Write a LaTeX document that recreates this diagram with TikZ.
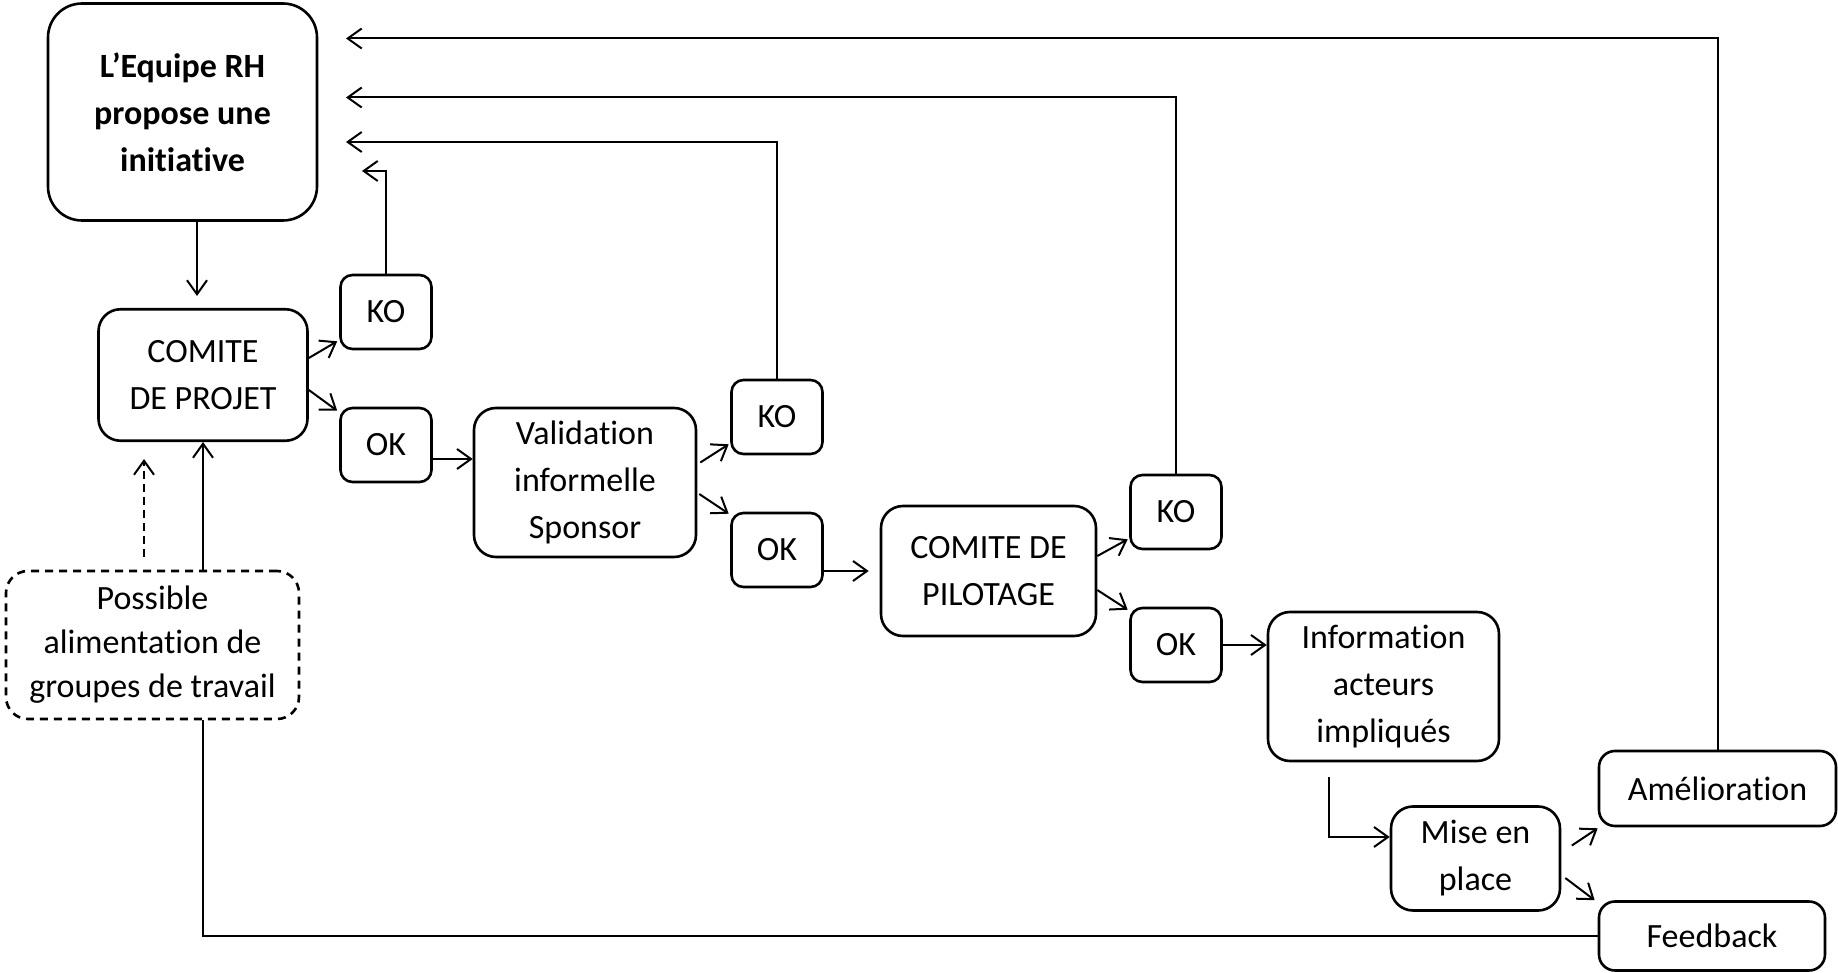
\documentclass[tikz,border=0pt]{standalone}
\usepackage{fontspec}
\setmainfont{Carlito}[Ligatures=NoCommon]
\usetikzlibrary{arrows.meta,calc}

\tikzset{
  bloc/.style={draw,line width=1.3pt,rounded corners=11pt,align=center,inner sep=0pt,
    font=\fontsize{17}{23.5}\selectfont},
  petit/.style={bloc,rounded corners=6pt,minimum width=45.5pt,minimum height=37pt},
  fleche/.style={line width=1pt,-{Straight Barb[length=7pt,width=10pt,line width=1pt]}},
  lien/.style={line width=1pt}
}

\begin{document}
\begin{tikzpicture}[x=0.5pt,y=-0.5pt]
\useasboundingbox (0,0) rectangle (1838,973);

% Blocs
\node[bloc,rounded corners=17pt,minimum width=134.5pt,minimum height=108.5pt,
  font=\bfseries\fontsize{17}{23.5}\selectfont] (rh) at (182.5,112) {L’Equipe RH\\propose une\\initiative};
\node[bloc,minimum width=104.5pt,minimum height=65.75pt] (cp) at (203,375) {COMITE\\DE PROJET};
\node[petit] (ko1) at (386,312) {KO};
\node[petit] (ok1) at (386,445) {OK};
\node[bloc,minimum width=111pt,minimum height=74.5pt] (val) at (585,482.5) {Validation\\informelle\\Sponsor};
\node[petit] (ko2) at (777,417) {KO};
\node[petit] (ok2) at (777,550) {OK};
\node[bloc,minimum width=107.5pt,minimum height=65pt] (pil) at (988.5,571) {COMITE DE\\PILOTAGE};
\node[petit] (ko3) at (1176,512) {KO};
\node[petit] (ok3) at (1176,645) {OK};
\node[bloc,minimum width=115.5pt,minimum height=74.5pt] (info) at (1383.5,686.5) {Information\\acteurs\\impliqués};
\node[bloc,minimum width=84.5pt,minimum height=52pt] (mise) at (1475.5,858.5) {Mise en\\place};
\node[bloc,rounded corners=8pt,minimum width=118.5pt,minimum height=37.5pt] (amel) at (1717.5,788.5) {Amélioration};
\node[bloc,rounded corners=8pt,minimum width=113pt,minimum height=34.5pt] (feed) at (1712,936) {Feedback};
\node[bloc,dash pattern=on 4pt off 3pt,minimum width=146.5pt,minimum height=74pt,
  font=\fontsize{17}{22}\selectfont] (groupes) at (152.5,645)
  {Possible\\alimentation de\\groupes de travail};

% Retours vers l'equipe RH
\coordinate (retour1) at (346,38.5);
\coordinate (retour2) at (346,97.5);
\coordinate (retour3) at (346,142);
\coordinate (retour4) at (362,171);
\draw[fleche] (amel.north) |- (retour1);
\draw[fleche] (ko3.north) |- (retour2);
\draw[fleche] (ko2.north) |- (retour3);
\draw[fleche] (ko1.north) |- (retour4);

% Circuit de validation
\draw[fleche] ($(rh.south)+(14.5,0)$) -- ($(cp.north)+(-6,-12)$);
\draw[fleche] ($(cp.east)+(0,-17)$) -- ($(ko1.south west)+(-2,-9)$);
\draw[fleche] ($(cp.east)+(0,15)$) -- ($(ok1.north west)+(-2,4)$);
\draw[fleche] ($(ok1.east)+(0,14)$) coordinate (a) -- (a -| val.west);
\draw[fleche] ($(val.east)+(3,-20)$) -- ($(ko2.south west)+(-1.5,-11)$);
\draw[fleche] ($(val.east)+(2,11.5)$) -- ($(ok2.north west)+(-1.5,2)$);
\draw[fleche,shorten >=5.5pt] ($(ok2.east)+(0,21)$) coordinate (b) -- (b -| pil.west);
\draw[fleche] ($(pil.east)+(0,-15)$) -- ($(ko3.south west)+(-1.5,-11)$);
\draw[fleche] ($(pil.east)+(0,19)$) -- ($(ok3.north west)+(-1.5,3)$);
\draw[fleche] (ok3.east) -- (ok3.east -| info.west);
\draw[fleche] ($(info.south)+(-54.5,15)$) |- ($(mise.west)+(0,-21.5)$);
\draw[fleche] ($(mise.east)+(10.5,-13)$) -- ($(amel.south west)+(0,1)$);
\draw[fleche] ($(mise.east)+(4,19.5)$) -- ($(feed.north west)+(-3,0)$);

% Boucle feedback
\draw[lien] (feed.west) -| ($(groupes.south)+(50.5,0)$);
\draw[fleche] ($(groupes.north)+(50.5,0)$) -- (cp.south);
\draw[fleche,dash pattern=on 4pt off 2.5pt] ($(groupes.north)+(-8.5,-13)$) -- ($(cp.south)+(-59,17)$);
\end{tikzpicture}
\end{document}
